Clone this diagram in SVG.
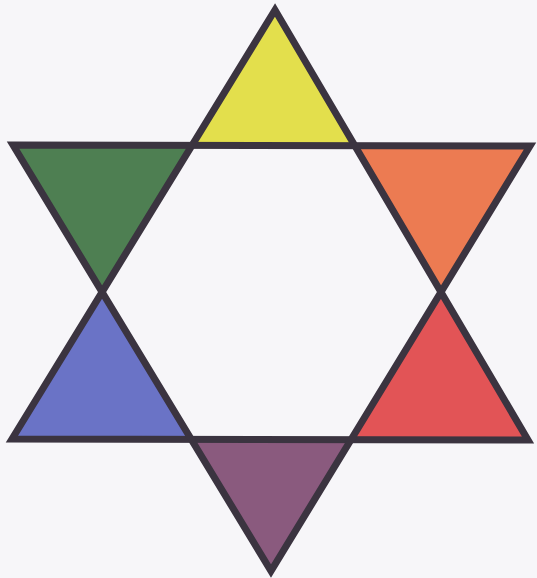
<svg xmlns="http://www.w3.org/2000/svg" width="537" height="578" viewBox="0 0 537 578">
<style>
.tri{stroke:none}
.outline{fill:none;stroke:#3b3440;stroke-width:7;stroke-linejoin:miter;stroke-miterlimit:10}
</style>
<rect width="537" height="578" fill="#f7f6f9"/>
<g id="yellow"><polygon class="tri" fill="#e3df4c" points="275,10 192,144 355,145"/></g>
<g id="green"><polygon class="tri" fill="#4e7f52" points="13,145 192,144 102,292"/></g>
<g id="orange"><polygon class="tri" fill="#ec7b52" points="355,145 530,146 442,292"/></g>
<g id="blue"><polygon class="tri" fill="#6a73c6" points="102,292 12,439 189,439"/></g>
<g id="red"><polygon class="tri" fill="#e25456" points="442,292 352,439 528,440"/></g>
<g id="purple"><polygon class="tri" fill="#8a5a7e" points="189,439 352,439 271,571"/></g>
<g id="connectors">
<polygon class="outline" points="275,10 528,440 12,439"/>
<polygon class="outline" points="13,145 530,146 271,571"/>
</g>
</svg>
